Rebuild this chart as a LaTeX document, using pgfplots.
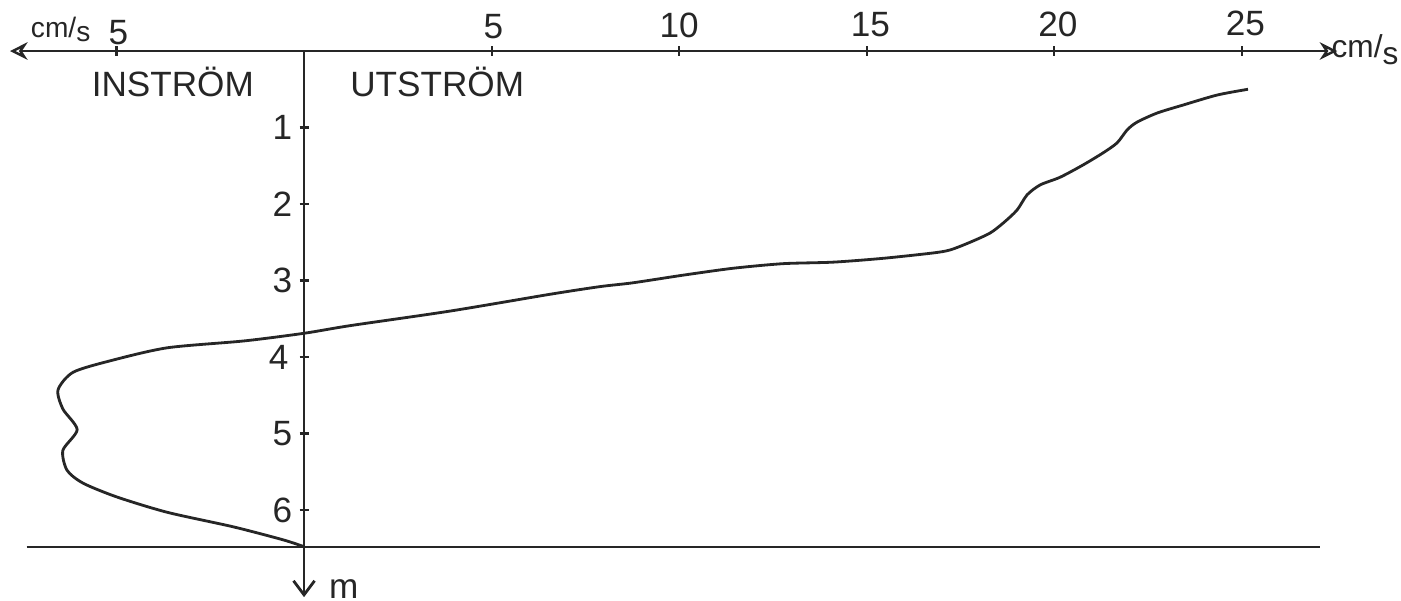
\documentclass[border=0pt]{standalone}
\usepackage{fontspec}
\setmainfont{Liberation Sans}
\usepackage{pgfplots}
\pgfplotsset{compat=1.18}
\usetikzlibrary{arrows.meta}
\definecolor{ink}{gray}{0.15}

\begin{document}
\begin{tikzpicture}
\begin{axis}[
  width=14.01cm, height=6.01cm, scale only axis,
  xmin=-8.107, xmax=29.25, ymin=-0.667, ymax=7.19,
  y dir=reverse, hide axis, clip=false,
]
\path (rel axis cs:0,0) rectangle (rel axis cs:1,1);
% axes
\draw[ink, line width=0.7pt, {Stealth[open,length=5pt,width=5pt]}-{Stealth[open,length=5pt,width=5pt]}] (axis cs:-7.84,0) -- (axis cs:27.55,0);
\draw[ink, line width=0.8pt, -{Straight Barb[length=4pt,width=6pt]}] (axis cs:0,0) -- (axis cs:0,7.14);
\draw[ink, line width=0.6pt] (axis cs:-7.4,6.48) -- (axis cs:27.1,6.48);
% x ticks
\draw[ink, line width=0.6pt] (axis cs:-5,-0.06) -- (axis cs:-5,0.06);
\draw[ink, line width=0.6pt] (axis cs:5,-0.06) -- (axis cs:5,0.06);
\draw[ink, line width=0.6pt] (axis cs:10,-0.06) -- (axis cs:10,0.06);
\draw[ink, line width=0.6pt] (axis cs:15,-0.06) -- (axis cs:15,0.06);
\draw[ink, line width=0.6pt] (axis cs:20,-0.06) -- (axis cs:20,0.06);
\draw[ink, line width=0.6pt] (axis cs:25,-0.06) -- (axis cs:25,0.06);
% y ticks
\draw[ink, line width=0.6pt] (axis cs:-0.12,1) -- (axis cs:0.12,1);
\draw[ink, line width=0.6pt] (axis cs:-0.12,2) -- (axis cs:0.12,2);
\draw[ink, line width=0.6pt] (axis cs:-0.12,3) -- (axis cs:0.12,3);
\draw[ink, line width=0.6pt] (axis cs:-0.12,4) -- (axis cs:0.12,4);
\draw[ink, line width=0.6pt] (axis cs:-0.12,5) -- (axis cs:0.12,5);
\draw[ink, line width=0.6pt] (axis cs:-0.12,6) -- (axis cs:0.12,6);
\node[ink, anchor=east, inner sep=0pt] at (axis cs:-0.3,1) {1};
\node[ink, anchor=east, inner sep=0pt] at (axis cs:-0.3,2) {2};
\node[ink, anchor=east, inner sep=0pt] at (axis cs:-0.3,3) {3};
\node[ink, anchor=east, inner sep=0pt] at (axis cs:-0.4,4) {4};
\node[ink, anchor=east, inner sep=0pt] at (axis cs:-0.3,5) {5};
\node[ink, anchor=east, inner sep=0pt] at (axis cs:-0.3,6) {6};
% tick labels
\node[ink, inner sep=0pt] at (axis cs:-4.95,-0.24) {5};
\node[ink, inner sep=0pt] at (axis cs:5.05,-0.32) {5};
\node[ink, inner sep=0pt] at (axis cs:10,-0.34) {10};
\node[ink, inner sep=0pt] at (axis cs:15.1,-0.34) {15};
\node[ink, inner sep=0pt] at (axis cs:20.1,-0.35) {20};
\node[ink, inner sep=0pt] at (axis cs:25.1,-0.36) {25};
\node[ink, anchor=west, inner sep=0pt, font=\footnotesize] at (axis cs:-7.3,-0.28) {cm/\raisebox{-0.3ex}{s}};
\node[ink, anchor=east, inner sep=0pt, font=\small] at (axis cs:29.2,-0.02) {cm/\raisebox{-0.4ex}{s}};
\node[ink, anchor=south west, inner sep=0pt] at (axis cs:0.65,7.17) {m};
\node[ink] at (axis cs:-3.5,0.41) {INSTRÖM};
\node[ink] at (axis cs:3.55,0.41) {UTSTRÖM};
% velocity profile
\addplot[ink, line width=0.8pt, smooth, tension=0.45] coordinates {
(25.17,0.50) (24.35,0.575) (23.44,0.706) (22.75,0.81) (22.21,0.93)
(21.95,1.03) (21.68,1.20) (21.31,1.33) (20.77,1.49) (20.16,1.65)
(19.63,1.75) (19.28,1.88) (19.01,2.08) (18.64,2.25) (18.29,2.38)
(17.76,2.50) (17.23,2.60) (16.77,2.64) (15.44,2.71) (14.11,2.76)
(12.77,2.78) (11.44,2.84) (10.11,2.93) (8.77,3.03) (7.89,3.08)
(6.56,3.18) (3.89,3.40) (1.23,3.59) (0,3.69) (-1.6,3.79)
(-3.65,3.88) (-5.17,4.05) (-6.16,4.20) (-6.56,4.43) (-6.43,4.68)
(-6.05,4.95) (-6.43,5.22) (-6.32,5.48) (-5.89,5.65) (-4.99,5.83)
(-3.65,6.03) (-1.89,6.22) (-0.56,6.39) (0,6.48)
};
\end{axis}
\end{tikzpicture}
\end{document}
